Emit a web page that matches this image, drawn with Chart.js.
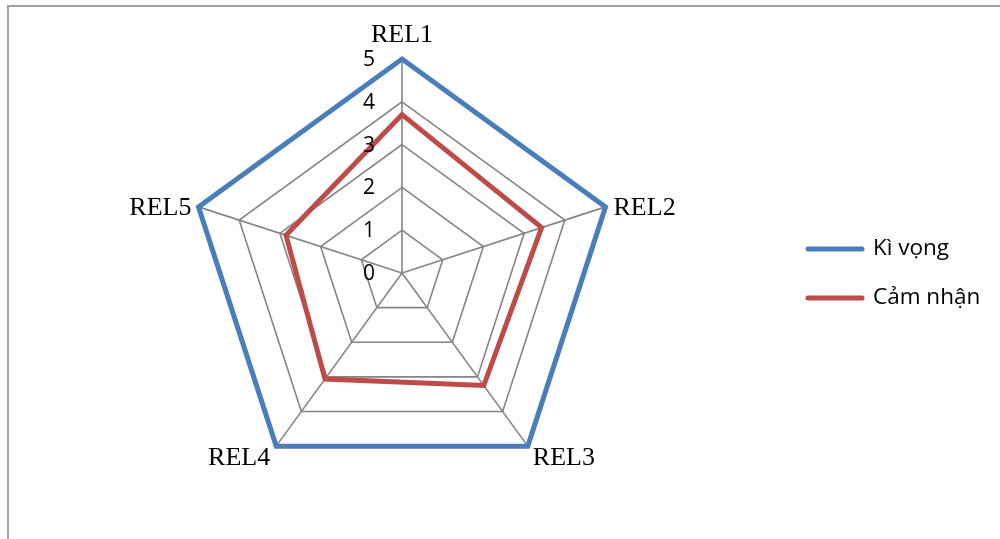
<!DOCTYPE html>
<html>
<head>
<meta charset="utf-8">
<script src="https://cdn.jsdelivr.net/npm/chart.js@4"></script>
<style>
  html, body { margin: 0; padding: 0; background: #fff; }
  canvas { display: block; }
</style>
</head>
<body>
<canvas id="radar" width="1000" height="539"></canvas>
<script>
const categories = ['REL1', 'REL2', 'REL3', 'REL4', 'REL5'];
const kiVong = [5, 5, 5, 5, 5];
const camNhan = [3.7, 3.43, 3.25, 3.06, 2.85];
const tickValues = [0, 1, 2, 3, 4, 5];
const seriesNames = ['Kì vọng', 'Cảm nhận'];
const seriesColors = ['#4a7ebb', '#be4b48'];

// frame, tick numbers, axis names and legend are painted here
const extras = {
    id: 'extras',
    afterDraw(chart) {
        const ctx = chart.ctx;
        const r = chart.scales.r;
        ctx.save();

        // outer frame (top and left edges only)
        ctx.strokeStyle = '#a0a0a0';
        ctx.lineWidth = 2;
        ctx.beginPath();
        ctx.moveTo(8, 539);
        ctx.lineTo(8, 6);
        ctx.lineTo(1000, 6);
        ctx.stroke();

        // tick numbers on the left of the first axis
        ctx.fillStyle = '#000';
        ctx.font = '21px "Open Sans"';
        ctx.textAlign = 'right';
        ctx.textBaseline = 'middle';
        tickValues.forEach(v => {
            const p = r.getPointPositionForValue(0, v);
            ctx.fillText(String(v), p.x - 27, p.y + 1);
        });

        // axis names
        ctx.font = '26px "Liberation Serif"';
        categories.forEach((name, i) => {
            const p = r.getPointPositionForValue(i, r.max);
            const dx = p.x - r.xCenter;
            const dy = p.y - r.yCenter;
            ctx.textBaseline = 'alphabetic';
            if (Math.abs(dx) < 5) {
                ctx.textAlign = 'center';
                ctx.fillText(name, p.x, p.y - 17);
            } else if (dy < 0) {
                ctx.textAlign = dx > 0 ? 'left' : 'right';
                ctx.fillText(name, p.x + (dx > 0 ? 8 : -7), p.y + 8);
            } else {
                ctx.textAlign = dx > 0 ? 'left' : 'right';
                ctx.fillText(name, p.x + (dx > 0 ? 5 : -6), p.y + 19);
            }
        });

        // legend
        ctx.font = '22.5px "Open Sans"';
        ctx.textAlign = 'left';
        ctx.textBaseline = 'middle';
        chart.data.datasets.forEach((ds, i) => {
            const y = 249 + i * 49;
            ctx.strokeStyle = ds.borderColor;
            ctx.lineWidth = 5;
            ctx.lineCap = 'round';
            ctx.beginPath();
            ctx.moveTo(808, y);
            ctx.lineTo(862, y);
            ctx.stroke();
            ctx.fillStyle = '#000';
            ctx.fillText(ds.label, 873, y);
        });

        ctx.restore();
    }
};

new Chart(document.getElementById('radar'), {
    type: 'radar',
    data: {
        labels: categories,
        datasets: [
            {
                label: seriesNames[0],
                data: kiVong,
                borderColor: seriesColors[0],
                borderWidth: 5,
                fill: false,
                pointRadius: 0
            },
            {
                label: seriesNames[1],
                data: camNhan,
                borderColor: seriesColors[1],
                borderWidth: 5,
                fill: false,
                pointRadius: 0
            }
        ]
    },
    options: {
        responsive: false,
        animation: false,
        layout: {
            padding: { left: 188, top: 59, right: 384, bottom: 52 }
        },
        plugins: {
            legend: { display: false },
            tooltip: { enabled: false }
        },
        scales: {
            r: {
                min: 0,
                max: 5,
                ticks: { stepSize: 1, display: false },
                pointLabels: { display: false },
                grid: { color: '#858585', lineWidth: 1.6 },
                angleLines: { color: '#858585', lineWidth: 1.6 }
            }
        }
    },
    plugins: [extras]
});
</script>
</body>
</html>
